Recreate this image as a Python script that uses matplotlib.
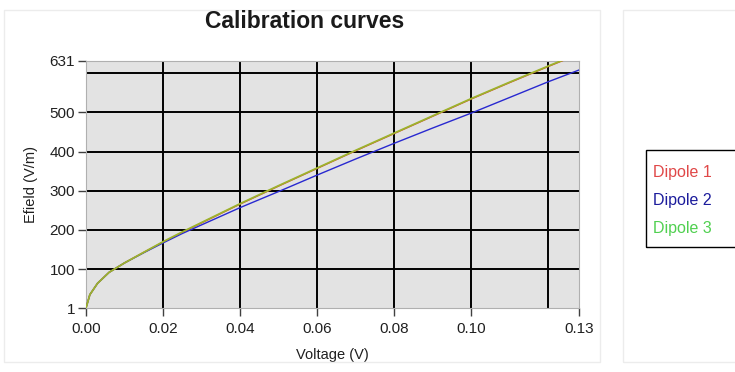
import matplotlib.pyplot as plt
from matplotlib.patches import Rectangle

plt.rcParams['font.family'] = ['Liberation Sans', 'DejaVu Sans']

# Calibration data: voltage (V) and electric field (V/m) for each dipole
voltage = [0.0, 0.001, 0.003, 0.006, 0.010, 0.015, 0.020, 0.025, 0.030, 0.040,
           0.050, 0.060, 0.070, 0.080, 0.090, 0.100, 0.110, 0.120, 0.128]
dipole1 = [1, 35, 64, 92, 116, 143, 169, 194, 218, 266,
           312, 357, 402, 446, 490, 534, 576, 617, 649]
dipole2 = [1, 35, 64, 92, 116, 142, 167, 191, 213, 257,
           298, 340, 381, 421, 460, 498, 538, 578, 608]
dipole3 = [1, 35, 64, 92, 116, 143, 170, 195, 219, 267,
           313, 358, 403, 447, 491, 535, 577, 618, 650]

labels = ['Dipole 1', 'Dipole 2', 'Dipole 3']
line_colors = ['#e03030', '#2828d0', '#9cb42c']
text_colors = ['#e04848', '#1c1c9c', '#50d050']

x_ticks = [0.0, 0.02, 0.04, 0.06, 0.08, 0.10, 0.128]
x_ticklabels = ['0.00', '0.02', '0.04', '0.06', '0.08', '0.10', '0.13']
y_ticks = [1, 100, 200, 300, 400, 500, 631]
y_ticklabels = ['1', '100', '200', '300', '400', '500', '631']
grid_x = [0.02, 0.04, 0.06, 0.08, 0.10, 0.12]
grid_y = [100, 200, 300, 400, 500, 600]

W, H = 735, 372
fig = plt.figure(figsize=(W / 100, H / 100), dpi=100)
ax = fig.add_axes([86 / W, 1 - 308 / H, (579 - 86) / W, (308 - 61) / H])

# light panel frames behind the graph and the legend
fig.patches.append(Rectangle((4 / W, 10 / H), 596 / W, 352 / H,
                             transform=fig.transFigure, fill=False,
                             edgecolor='#ececec', lw=1, zorder=0))
fig.patches.append(Rectangle((623 / W, 10 / H), 120 / W, 352 / H,
                             transform=fig.transFigure, fill=False,
                             edgecolor='#ececec', lw=1, zorder=0))

ax.set_facecolor('#e3e3e3')
for g in grid_x:
    ax.axvline(g, color='black', lw=1.4, zorder=1)
for g in grid_y:
    ax.axhline(g, color='black', lw=1.4, zorder=1)

ax.plot(voltage, dipole1, color=line_colors[0], lw=1.0, zorder=3)
ax.plot(voltage, dipole2, color=line_colors[1], lw=1.0, zorder=3)
ax.plot(voltage, dipole3, color=line_colors[2], lw=1.3, zorder=4)

ax.set_xlim(0, 0.128)
ax.set_ylim(1, 631)
ax.set_xticks(x_ticks)
ax.set_xticklabels(x_ticklabels)
ax.set_yticks(y_ticks)
ax.set_yticklabels(y_ticklabels)
ax.tick_params(direction='out', length=6, width=1, color='#404040',
               labelsize=11, labelcolor='#202020', pad=2)
ax.tick_params(axis='x', pad=4)
for s in ax.spines.values():
    s.set_color('#b0b0b0')
    s.set_linewidth(0.8)

ax.set_xlabel('Voltage (V)', fontsize=10.5, labelpad=9, color='#202020')
ax.set_ylabel('Efield (V/m)', fontsize=10.5, labelpad=8, color='#202020')
fig.text(305 / W, 1 - 22 / H, 'Calibration curves', fontsize=16.5,
         fontweight='bold', ha='center', va='center', color='#1a1a1a')

# text-only legend box, each name in its curve colour
fig.patches.append(Rectangle((646 / W, 1 - 247 / H), 100 / W, 97 / H,
                             transform=fig.transFigure, fill=False,
                             edgecolor='black', lw=1.0, zorder=5))
for lab, c, ty in zip(labels, text_colors, [173, 201, 229]):
    fig.text(653 / W, 1 - ty / H, lab, fontsize=11.5, color=c,
             ha='left', va='center')

plt.savefig('out.png', dpi=100)
